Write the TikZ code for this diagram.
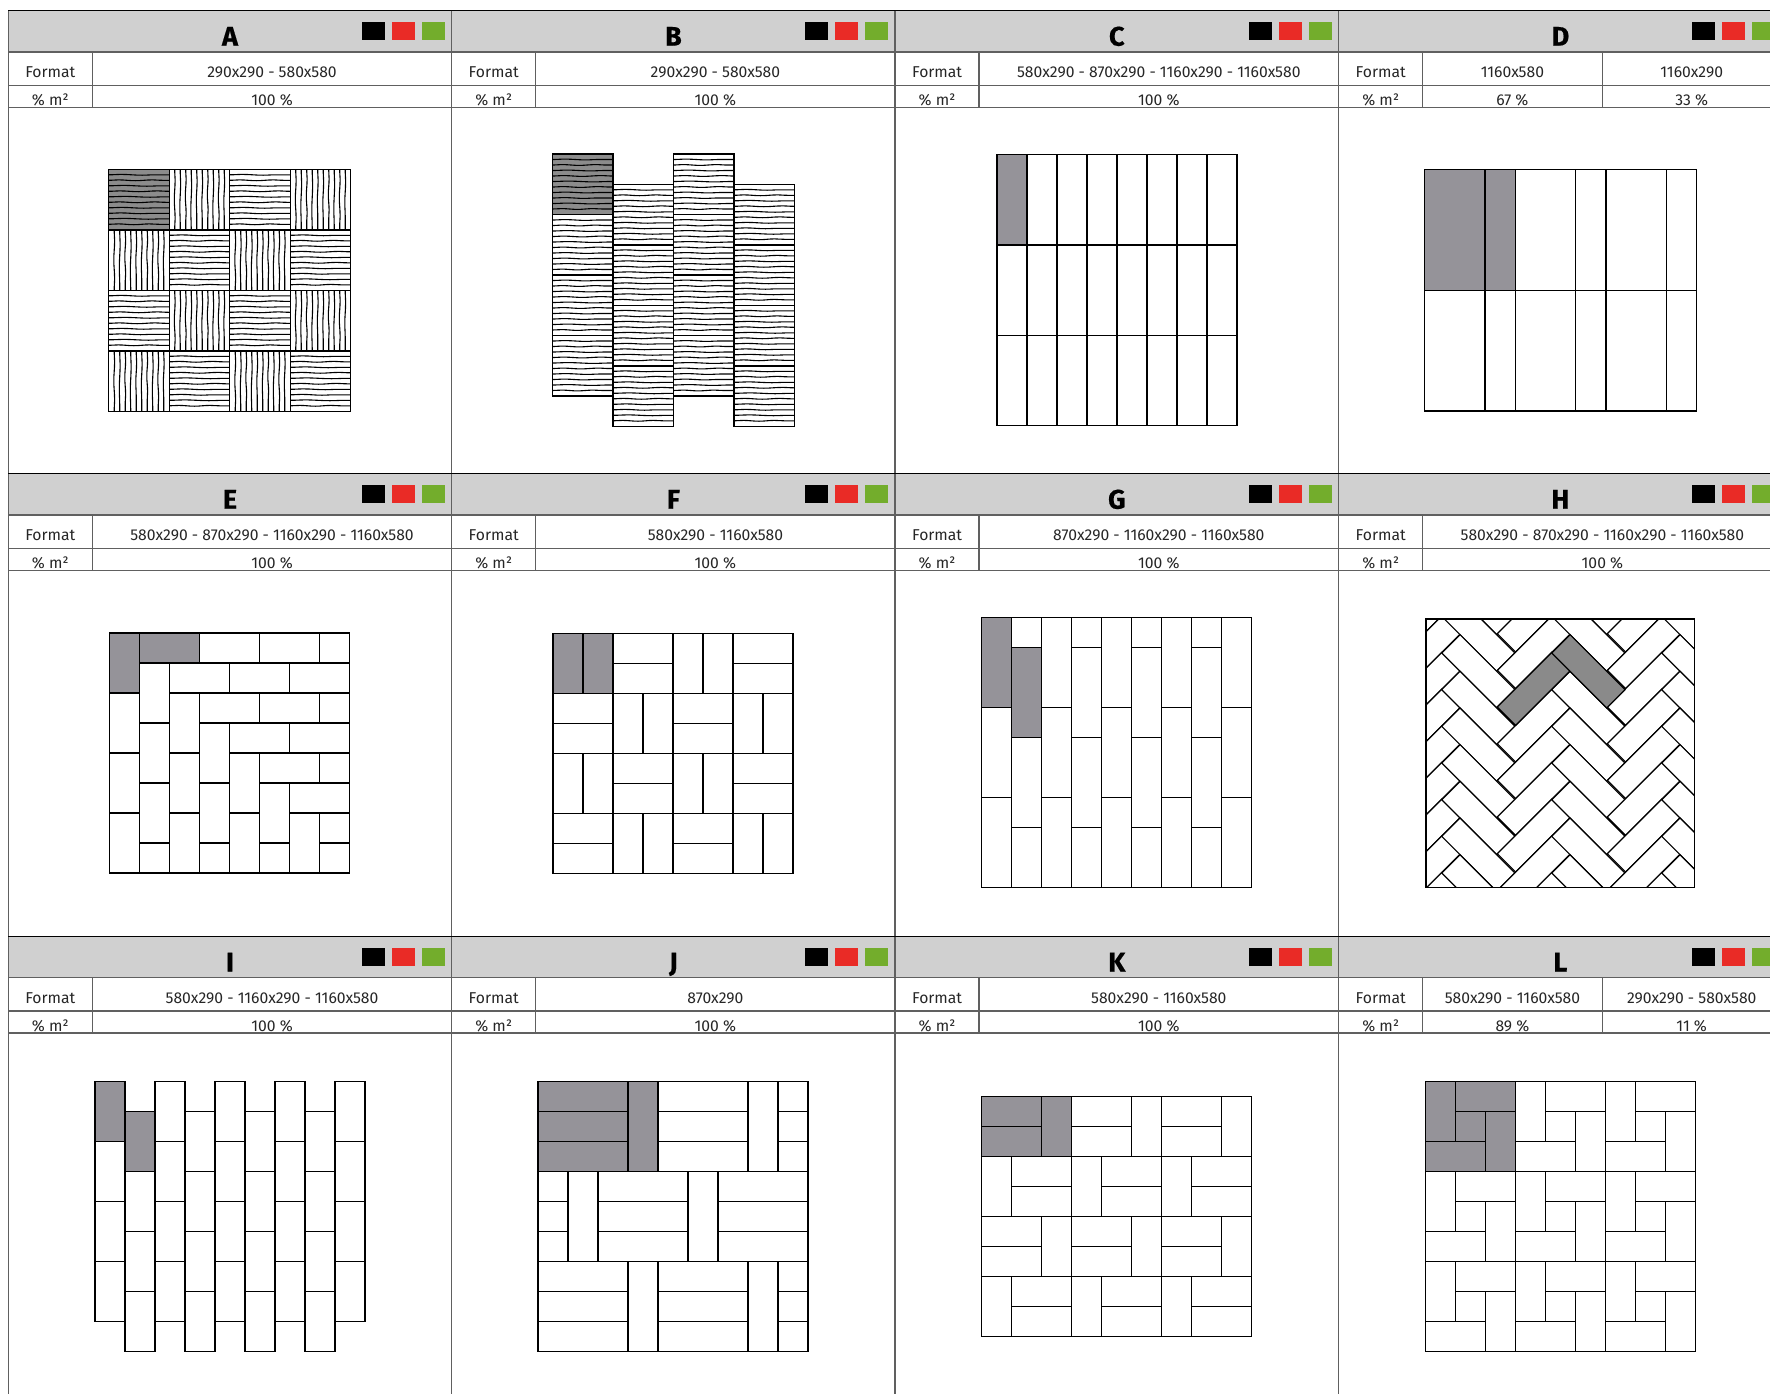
\documentclass[tikz,border=0pt]{standalone}
\usepackage{fontspec}
\setmainfont{Fira Sans}
\newfontfamily\titlefont[FakeBold=0.5]{Fira Sans Bold}
\definecolor{headgray}{HTML}{D0D0D0}
\definecolor{tilegray}{HTML}{959399}
\definecolor{herrgray}{HTML}{8A8A8A}
\definecolor{hatchgray}{HTML}{8C8C8C}
\definecolor{gridgray}{HTML}{606060}
\definecolor{swred}{HTML}{E92B26}
\definecolor{swgreen}{HTML}{73AD2C}
\definecolor{txtdark}{HTML}{262626}
\usetikzlibrary{decorations.pathmorphing}
\tikzset{
  tile/.style={draw=black, line width=1.4pt, fill=white},
  gridline/.style={draw=gridgray, line width=1.3pt},
  wave/.style={line width=1.1pt, decorate, decoration={snake, amplitude=0.4pt, segment length=#1}},
  titletxt/.style={anchor=base, text=black, font=\fontsize{27}{27}\titlefont},
  celltxt/.style={anchor=base, text=txtdark, font=\fontsize{15.7}{16}\selectfont},
}
\def\tu{30}
% frame of one panel: header band, rules, swatches, title, row labels
\newcommand{\panelframe}[3]{
  \fill[headgray] (#2,#3) rectangle ++(443.4,41.3);
  \draw[draw=black, line width=1.3pt] (#2,#3) -- ++(443.4,0);
  \draw[gridline] (#2,#3+41.3) -- ++(443.4,0);
  \draw[gridline] (#2,#3+74.5) -- ++(443.4,0);
  \draw[gridline] (#2,#3+96.5) -- ++(443.4,0);
  \draw[gridline] (#2,#3) -- ++(0,463);
  \draw[gridline] (#2+84,#3+41.3) -- ++(0,55.2);
  \fill[black]   (#2+353.7,#3+11.3) rectangle ++(23,18);
  \fill[swred]   (#2+383.7,#3+11.3) rectangle ++(23,18);
  \fill[swgreen] (#2+413.7,#3+11.3) rectangle ++(23,18);
  \node[titletxt] (title#1) at (#2+221.7,#3+35) {#1};
  \node[celltxt] (fmtlabel#1) at (#2+42,#3+67) {Format};
  \node[celltxt] (pctlabel#1) at (#2+42,#3+94.5) {\% m²};
}
\newcommand{\panelone}[5]{
  \panelframe{#1}{#2}{#3}
  \node[celltxt] (fmt#1) at (#2+263.7,#3+67) {#4};
  \node[celltxt] (pct#1) at (#2+263.7,#3+94.5) {#5};
}
\newcommand{\paneltwo}[7]{
  \panelframe{#1}{#2}{#3}
  \draw[gridline] (#2+263.7,#3+41.3) -- ++(0,55.2);
  \node[celltxt] (fmta#1) at (#2+173.7,#3+67) {#4};
  \node[celltxt] (pcta#1) at (#2+173.7,#3+94.5) {#5};
  \node[celltxt] (fmtb#1) at (#2+353,#3+67) {#6};
  \node[celltxt] (pctb#1) at (#2+353,#3+94.5) {#7};
}
% tiles in units of 290 mm: x/y/w/h
\newcommand{\tiles}[4]{
  \foreach \tx/\ty/\tw/\thh in {#4}
    \draw[tile, fill=#3] (#1+\tx*\tu,#2+\ty*\tu) rectangle ++(\tw*\tu,\thh*\tu);
}
% hatched square tiles
\newcommand{\hatchh}[3]{
  \fill[#3] (#1,#2) rectangle ++(60.5,60.5);
  \foreach \k/\sl in {1/41,2/33,3/47,4/37,5/51,6/35,7/43,8/39,9/49,10/31}
    \draw[wave=\sl pt] (#1,#2+\k*5.5) -- ++(60.5,0);
  \draw[tile, fill=none] (#1,#2) rectangle ++(60.5,60.5);
}
\newcommand{\hatchv}[3]{
  \fill[#3] (#1,#2) rectangle ++(60.5,60.5);
  \foreach \k/\sl in {1/37,2/47,3/33,4/51,5/39,6/43,7/31,8/49,9/35,10/41}
    \draw[wave=\sl pt] (#1+\k*5.5,#2) -- ++(0,60.5);
  \draw[tile, fill=none] (#1,#2) rectangle ++(60.5,60.5);
}
\begin{document}
\begin{tikzpicture}[x=1pt, y=-1pt]
\useasboundingbox (0,0) rectangle (1770,1393);
\def\cola{8.3}
\def\colb{451.7}
\def\colc{895.1}
\def\cold{1338.7}
\def\rowa{10.7}
\def\rowb{473.7}
\def\rowc{936.5}
% panels
\panelone{A}{\cola}{\rowa}{290x290 - 580x580}{100 \%}
\panelone{B}{\colb}{\rowa}{290x290 - 580x580}{100 \%}
\panelone{C}{\colc}{\rowa}{580x290 - 870x290 - 1160x290 - 1160x580}{100 \%}
\paneltwo{D}{\cold}{\rowa}{1160x580}{67 \%}{1160x290}{33 \%}
\panelone{E}{\cola}{\rowb}{580x290 - 870x290 - 1160x290 - 1160x580}{100 \%}
\panelone{F}{\colb}{\rowb}{580x290 - 1160x580}{100 \%}
\panelone{G}{\colc}{\rowb}{870x290 - 1160x290 - 1160x580}{100 \%}
\panelone{H}{\cold}{\rowb}{580x290 - 870x290 - 1160x290 - 1160x580}{100 \%}
\panelone{I}{\cola}{\rowc}{580x290 - 1160x290 - 1160x580}{100 \%}
\panelone{J}{\colb}{\rowc}{870x290}{100 \%}
\panelone{K}{\colc}{\rowc}{580x290 - 1160x580}{100 \%}
\paneltwo{L}{\cold}{\rowc}{580x290 - 1160x580}{89 \%}{290x290 - 580x580}{11 \%}
% A
\foreach \i/\j in {2/0,1/1,3/1,0/2,2/2,1/3,3/3} {
  \hatchh{108.7+\i*60.5}{169.3+\j*60.5}{white}
}
\foreach \i/\j in {1/0,3/0,0/1,2/1,1/2,3/2,0/3,2/3} {
  \hatchv{108.7+\i*60.5}{169.3+\j*60.5}{white}
}
\hatchh{108.7}{169.3}{hatchgray}
% B
\foreach \j in {1,2,3} {
  \hatchh{552.3}{154+\j*60.5}{white}
  \hatchh{673.3}{154+\j*60.5}{white}
}
\hatchh{552.3}{154}{hatchgray}
\hatchh{673.3}{154}{white}
\foreach \j in {0,1,2,3} {
  \hatchh{612.8}{184.3+\j*60.5}{white}
  \hatchh{733.8}{184.3+\j*60.5}{white}
}
% C
\foreach \i in {0,...,7}
  \foreach \j in {0,1,2}
    \draw[tile] (997+\i*30,154.6+\j*90.3) rectangle ++(30,90.3);
\draw[tile, fill=tilegray] (997,154.6) rectangle ++(30,90.3);
% D
{
\def\tu{30.2}
\foreach \j in {0,1} {
  \tiles{1424.7}{169.5+\j*120.8}{white}{0/0/2/4,2/0/1/4,3/0/2/4,5/0/1/4,6/0/2/4,8/0/1/4}
}
\tiles{1424.7}{169.5}{tilegray}{0/0/2/4,2/0/1/4}
}
% E
\tiles{109.7}{633}{white}{3/0/2/1,5/0/2/1,7/0/1/1,1/1/1/2,2/1/2/1,4/1/2/1,6/1/2/1,
  0/2/1/2,2/2/1/2,3/2/2/1,5/2/2/1,7/2/1/1,1/3/1/2,3/3/1/2,4/3/2/1,6/3/2/1,
  0/4/1/2,2/4/1/2,4/4/1/2,5/4/2/1,7/4/1/1,1/5/1/2,3/5/1/2,5/5/1/2,6/5/2/1,
  0/6/1/2,2/6/1/2,4/6/1/2,6/6/1/2,7/6/1/1,1/7/1/1,3/7/1/1,5/7/1/1,7/7/1/1}
\tiles{109.7}{633}{tilegray}{0/0/1/2,1/0/2/1}
% F
\foreach \i/\j in {0/0,4/0,2/2,6/2,0/4,4/4,2/6,6/6} {
  \tiles{553+\i*30}{633.3+\j*30}{white}{0/0/1/2,1/0/1/2}
}
\foreach \i/\j in {2/0,6/0,0/2,4/2,2/4,6/4,0/6,4/6} {
  \tiles{553+\i*30}{633.3+\j*30}{white}{0/0/2/1,0/1/2/1}
}
\tiles{553}{633.3}{tilegray}{0/0/1/2,1/0/1/2}
% G
\foreach \i in {0,2,4,6,8} {
  \tiles{981.7+\i*30}{617.7}{white}{0/0/1/3,0/3/1/3,0/6/1/3}
}
\foreach \i in {1,3,5,7} {
  \tiles{981.7+\i*30}{617.7}{white}{0/0/1/1,0/1/1/3,0/4/1/3,0/7/1/2}
}
\tiles{981.7}{617.7}{tilegray}{0/0/1/3,1/1/1/3}
% H
\begin{scope}
\clip (1426,618.9) rectangle (1694.3,887.3);
\foreach \i in {-1,0,1}
  \foreach \j in {-3,...,7} {
    \draw[tile, line width=1.2pt] (1497.3+\i*110,707+\j*36.67) -- ++(55,-55) -- ++(18.33,18.33) -- ++(-55,55) -- cycle;
    \draw[tile, line width=1.2pt] (1551.7+\i*110,653+\j*36.67) -- ++(55,55) -- ++(18.33,-18.33) -- ++(-55,-55) -- cycle;
  }
\draw[tile, line width=1.2pt, fill=herrgray] (1497.3,707) -- ++(55,-55) -- ++(18.33,18.33) -- ++(-55,55) -- cycle;
\draw[tile, line width=1.2pt, fill=herrgray] (1551.7,653) -- ++(55,55) -- ++(18.33,-18.33) -- ++(-55,-55) -- cycle;
\end{scope}
\draw[tile, fill=none] (1426,618.9) rectangle (1694.3,887.3);
% I
\foreach \i in {0,2,4,6,8} {
  \foreach \j in {0,1,2,3} {
    \tiles{94.8+\i*30}{1081.4+\j*60}{white}{0/0/1/2}
  }
}
\foreach \i in {1,3,5,7} {
  \foreach \j in {0,1,2,3} {
    \tiles{94.8+\i*30}{1111.4+\j*60}{white}{0/0/1/2}
  }
}
\tiles{94.8}{1081.4}{tilegray}{0/0/1/2,1/1/1/2}
% J
\foreach \i/\j in {4/0,0/6,4/6} {
  \tiles{538+\i*30}{1081.7+\j*30}{white}{0/0/3/1,0/1/3/1,0/2/3/1,3/0/1/3}
}
\tiles{538}{1081.7}{white}{2/3/3/1,2/4/3/1,2/5/3/1,6/3/3/1,6/4/3/1,6/5/3/1,5/3/1/3,
  0/3/1/1,0/4/1/1,0/5/1/1,1/3/1/3,7/0/1/3,7/6/1/3,
  8/0/1/1,8/1/1/1,8/2/1/1,8/6/1/1,8/7/1/1,8/8/1/1}
\tiles{538}{1081.7}{tilegray}{0/0/3/1,0/1/3/1,0/2/3/1,3/0/1/3}
% K
\foreach \i in {0,3,6} {
  \foreach \j in {0,4} {
    \tiles{981.7+\i*30}{1096.3+\j*30}{white}{0/0/2/1,0/1/2/1,2/0/1/2}
    \tiles{981.7+\i*30}{1096.3+\j*30}{white}{0/2/1/2,1/2/2/1,1/3/2/1}
  }
}
\tiles{981.7}{1096.3}{tilegray}{0/0/2/1,0/1/2/1,2/0/1/2}
% L
\foreach \i in {0,3,6} {
  \foreach \j in {0,3,6} {
    \tiles{1425.3+\i*30}{1081.7+\j*30}{white}{0/0/1/2,1/0/2/1,1/1/1/1,2/1/1/2,0/2/2/1}
  }
}
\tiles{1425.3}{1081.7}{tilegray}{0/0/1/2,1/0/2/1,1/1/1/1,2/1/1/2,0/2/2/1}
\end{tikzpicture}
\end{document}
